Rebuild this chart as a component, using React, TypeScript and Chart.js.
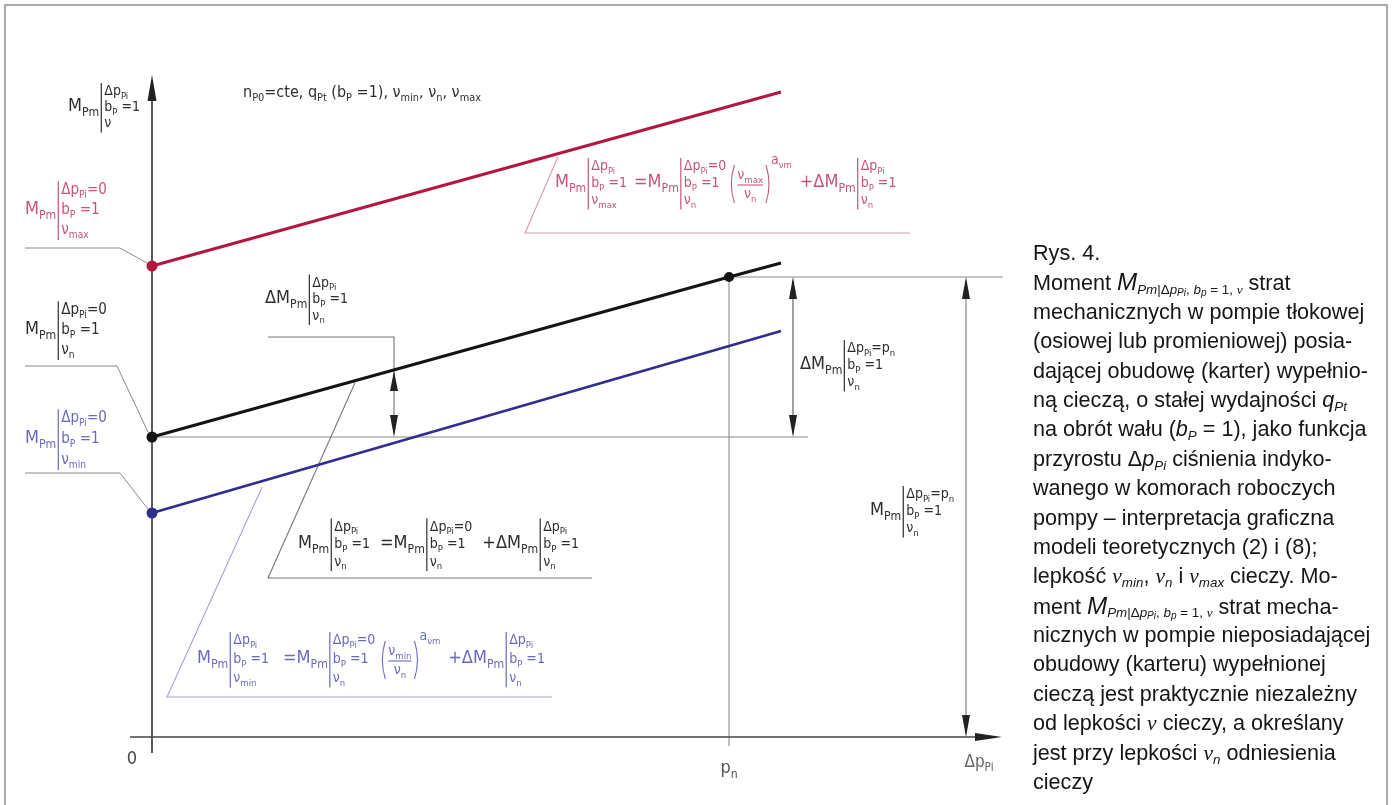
import React, { useEffect, useRef } from "react";
import { Chart, registerables } from "chart.js";

Chart.register(...registerables);

// ---- data (Δp_Pi on x, M_Pm on y; arbitrary units) ----
const pressureValues = [0, 10.9];
const nominalPressure = 10; // p_n
const momentMaxValues = [47.1, 64.5]; // viscosity ν_max
const momentNomValues = [30.0, 47.4]; // viscosity ν_n
const momentMinValues = [22.4, 40.6]; // viscosity ν_min
const momentNomAtPn = 46.0;
const xAxisMax = 14.73;
const yAxisMax = 66.2;
const tickLabels = ["0", "p_{n}", "Δp_{Pi}"];
const conditionsText = "n_{P0}=cte, q_{Pt} (b_{P} =1), ν_{min}, ν_{n}, ν_{max}";

const RED = "#b3173f";
const BLUE = "#2e2e8e";
const BLACK = "#141414";
const RED_TEXT = "#c45579";
const RED_THIN = "#d99aae";
const BLUE_TEXT = "#6a6abd";
const BLUE_THIN = "#a4a4d8";
const DARK_TEXT = "#2e2e2e";
const GUIDE = "#8a8a8a";

const DIAG_FONT = "'Liberation Sans Narrow', 'DejaVu Sans Condensed', 'Arial Narrow', 'Liberation Sans', sans-serif";
const font = (s: number) => `${s.toFixed(1)}px ${DIAG_FONT}`;

type Run = { text: string; scale: number; dy: number };
function parseRich(s: string): Run[] {
  const runs: Run[] = [];
  const st: { scale: number; dy: number }[] = [{ scale: 1, dy: 0 }];
  let buf = "";
  const flush = () => {
    if (buf) {
      const t = st[st.length - 1];
      runs.push({ text: buf, scale: t.scale, dy: t.dy });
      buf = "";
    }
  };
  for (let i = 0; i < s.length; i++) {
    const c = s[i];
    if ((c === "_" || c === "^") && s[i + 1] === "{") {
      flush();
      const t = st[st.length - 1];
      st.push(
        c === "_"
          ? { scale: t.scale * 0.68, dy: t.dy + 0.26 * t.scale }
          : { scale: t.scale * 0.68, dy: t.dy - 0.42 * t.scale }
      );
      i++;
    } else if (c === "}") {
      flush();
      if (st.length > 1) st.pop();
    } else buf += c;
  }
  flush();
  return runs;
}

function rich(ctx: CanvasRenderingContext2D, s: string, x: number, y: number, size: number, color: string, draw = true, align: "left" | "center" = "left") {
  const runs = parseRich(s);
  let w = 0;
  for (const r of runs) {
    ctx.font = font(size * r.scale);
    w += ctx.measureText(r.text).width;
  }
  if (draw) {
    let cx = align === "center" ? x - w / 2 : x;
    ctx.fillStyle = color;
    ctx.textAlign = "left";
    ctx.textBaseline = "alphabetic";
    for (const r of runs) {
      ctx.font = font(size * r.scale);
      ctx.fillText(r.text, cx, y + r.dy * size);
      cx += ctx.measureText(r.text).width;
    }
  }
  return w;
}

type LOpt = { size: number; sub: number; sp: number; color: string };
function evalLabel(ctx: CanvasRenderingContext2D, x: number, base: number, main: string, lines: string[], o: LOpt) {
  const w = rich(ctx, main, x, base, o.size, o.color);
  const bx = x + w + 2;
  ctx.strokeStyle = o.color;
  ctx.lineWidth = 1.2;
  ctx.beginPath();
  ctx.moveTo(bx, base - o.sp - o.sub * 0.85);
  ctx.lineTo(bx, base + o.sp + o.sub * 0.4);
  ctx.stroke();
  let mw = 0;
  lines.forEach((ln, i) => {
    const lw = rich(ctx, ln, bx + 3, base + (i - 1) * o.sp, o.sub, o.color);
    mw = Math.max(mw, lw);
  });
  return bx + 3 + mw;
}

function parenFrac(ctx: CanvasRenderingContext2D, x: number, base: number, num: string, den: string, exp: string, o: LOpt) {
  const fs = o.sub;
  const nw = rich(ctx, num, 0, 0, fs, o.color, false);
  const dw = rich(ctx, den, 0, 0, fs, o.color, false);
  const fw = Math.max(nw, dw);
  const top = base - 22;
  const bot = base + 16;
  ctx.strokeStyle = o.color;
  ctx.lineWidth = 1.1;
  ctx.beginPath();
  ctx.moveTo(x + 6, top);
  ctx.quadraticCurveTo(x, (top + bot) / 2, x + 6, bot);
  ctx.stroke();
  const fx = x + 9;
  rich(ctx, num, fx + (fw - nw) / 2, base - 8, fs, o.color);
  ctx.beginPath();
  ctx.moveTo(fx, base - 2);
  ctx.lineTo(fx + fw, base - 2);
  ctx.stroke();
  rich(ctx, den, fx + (fw - dw) / 2, base + 11, fs, o.color);
  const rx = fx + fw + 3;
  ctx.beginPath();
  ctx.moveTo(rx, top);
  ctx.quadraticCurveTo(rx + 6, (top + bot) / 2, rx, bot);
  ctx.stroke();
  const ew = rich(ctx, exp, rx + 5, top - 1, fs, o.color);
  return rx + 5 + ew;
}

function head(ctx: CanvasRenderingContext2D, tx: number, ty: number, dir: "up" | "down" | "right", len: number, hw: number, color: string) {
  ctx.fillStyle = color;
  ctx.beginPath();
  ctx.moveTo(tx, ty);
  if (dir === "up") {
    ctx.lineTo(tx - hw, ty + len);
    ctx.lineTo(tx + hw, ty + len);
  } else if (dir === "down") {
    ctx.lineTo(tx - hw, ty - len);
    ctx.lineTo(tx + hw, ty - len);
  } else {
    ctx.lineTo(tx - len, ty - hw);
    ctx.lineTo(tx - len, ty + hw);
  }
  ctx.closePath();
  ctx.fill();
}

function poly(ctx: CanvasRenderingContext2D, pts: number[][], color: string, lw: number) {
  ctx.strokeStyle = color;
  ctx.lineWidth = lw;
  ctx.beginPath();
  pts.forEach((p, i) => (i === 0 ? ctx.moveTo(p[0], p[1]) : ctx.lineTo(p[0], p[1])));
  ctx.stroke();
}

const diagramPlugin = {
  id: "diagram",
  beforeDatasetsDraw(chart: any) {
    const ctx: CanvasRenderingContext2D = chart.ctx;
    const xs = chart.scales.x;
    const ys = chart.scales.y;
    const X = (v: number) => xs.getPixelForValue(v);
    const Y = (v: number) => ys.getPixelForValue(v);
    const lineAt = (vals: number[], px: number) => {
      const v = xs.getValueForPixel(px);
      return Y(vals[0] + ((vals[1] - vals[0]) * (v - pressureValues[0])) / (pressureValues[1] - pressureValues[0]));
    };
    const ox = X(0);
    const oy = Y(0);
    const yN0 = Y(momentNomValues[0]);
    const pnX = X(nominalPressure);
    const pnY = Y(momentNomAtPn);
    ctx.save();
    // frame
    poly(ctx, [[5, 805], [5, 5], [1387, 5], [1387, 805]], "#8f8f8f", 1.5);
    // guides
    poly(ctx, [[ox, yN0], [808, yN0]], GUIDE, 1.1);
    poly(ctx, [[pnX, pnY], [pnX, oy + 9]], GUIDE, 1.1);
    poly(ctx, [[pnX, pnY], [1003, pnY]], GUIDE, 1.1);
    // axes
    const yTop = Y(yAxisMax);
    poly(ctx, [[ox, oy + 16], [ox, yTop + 10]], "#333", 1.6);
    head(ctx, ox, yTop, "up", 26, 4.5, "#222");
    const xEnd = X(xAxisMax);
    poly(ctx, [[130, oy], [xEnd - 10, oy]], "#444", 1.4);
    head(ctx, xEnd, oy, "right", 27, 4, "#222");
    // dimension arrows
    const dimX = 793;
    poly(ctx, [[dimX, pnY + 4], [dimX, yN0 - 4]], "#555", 1.1);
    head(ctx, dimX, pnY, "up", 22, 4, "#222");
    head(ctx, dimX, yN0, "down", 22, 4, "#222");
    const totX = 966;
    poly(ctx, [[totX, pnY + 4], [totX, oy - 4]], "#777", 1.1);
    head(ctx, totX, pnY, "up", 22, 4, "#222");
    head(ctx, totX, oy, "down", 22, 4, "#222");
    const smX = 394;
    const smTop = lineAt(momentNomValues, smX);
    poly(ctx, [[268, 337], [smX, 337], [smX, yN0 - 4]], "#777", 1.1);
    head(ctx, smX, smTop + 1, "up", 20, 4, "#222");
    head(ctx, smX, yN0, "down", 22, 4, "#222");
    // leaders
    poly(ctx, [[25, 248], [120, 248], [ox - 5, Y(momentMaxValues[0]) - 3]], "#8a8a8a", 1);
    poly(ctx, [[25, 366], [117, 366], [ox - 4, yN0 - 5]], "#8a8a8a", 1);
    poly(ctx, [[25, 473], [120, 473], [ox - 4, Y(momentMinValues[0]) - 4]], "#8a8a8a", 1);
    poly(ctx, [[558, lineAt(momentMaxValues, 558) + 3], [525, 233], [910, 233]], RED_THIN, 1.1);
    poly(ctx, [[355, lineAt(momentNomValues, 355) + 2], [268, 578], [592, 578]], "#777", 1.1);
    poly(ctx, [[262, lineAt(momentMinValues, 262) + 6], [167, 697], [552, 697]], BLUE_THIN, 1.1);
    ctx.restore();
  },
  afterDatasetsDraw(chart: any) {
    const ctx: CanvasRenderingContext2D = chart.ctx;
    const xs = chart.scales.x;
    const pnX = xs.getPixelForValue(nominalPressure);
    ctx.save();
    const dark: LOpt = { size: 18, sub: 14, sp: 16, color: DARK_TEXT };
    // axis label
    evalLabel(ctx, 68, 111, "M_{Pm}", ["Δp_{Pi}", "b_{P} =1", "ν"], dark);
    rich(ctx, conditionsText, 243, 97, 16, DARK_TEXT);
    // left labels
    evalLabel(ctx, 25, 214, "M_{Pm}", ["Δp_{Pi}=0", "b_{P} =1", "ν_{max}"], { size: 18, sub: 15, sp: 20, color: RED_TEXT });
    evalLabel(ctx, 25, 334, "M_{Pm}", ["Δp_{Pi}=0", "b_{P} =1", "ν_{n}"], { size: 18, sub: 15, sp: 20, color: DARK_TEXT });
    evalLabel(ctx, 25, 443, "M_{Pm}", ["Δp_{Pi}=0", "b_{P} =1", "ν_{min}"], { size: 18, sub: 15, sp: 21, color: BLUE_TEXT });
    // ΔM labels
    evalLabel(ctx, 265, 303, "ΔM_{Pm}", ["Δp_{Pi}", "b_{P} =1", "ν_{n}"], { ...dark, sp: 16.5 });
    evalLabel(ctx, 800, 369, "ΔM_{Pm}", ["Δp_{Pi}=p_{n}", "b_{P} =1", "ν_{n}"], { ...dark, sp: 17 });
    evalLabel(ctx, 870, 515, "M_{Pm}", ["Δp_{Pi}=p_{n}", "b_{P} =1", "ν_{n}"], { ...dark, sp: 17 });
    // red formula
    const ro: LOpt = { size: 18, sub: 14, sp: 17, color: RED_TEXT };
    let cx = 555;
    cx = evalLabel(ctx, cx, 187, "M_{Pm}", ["Δp_{Pi}", "b_{P} =1", "ν_{max}"], ro);
    cx = evalLabel(ctx, cx + 7, 187, "=M_{Pm}", ["Δp_{Pi}=0", "b_{P} =1", "ν_{n}"], ro);
    cx = parenFrac(ctx, cx + 2, 187, "ν_{max}", "ν_{n}", "a_{νm}", ro);
    evalLabel(ctx, cx + 8, 187, "+ΔM_{Pm}", ["Δp_{Pi}", "b_{P} =1", "ν_{n}"], ro);
    // black formula
    const bo: LOpt = { size: 18, sub: 14, sp: 17.5, color: DARK_TEXT };
    cx = 298;
    cx = evalLabel(ctx, cx, 548, "M_{Pm}", ["Δp_{Pi}", "b_{P} =1", "ν_{n}"], bo);
    cx = evalLabel(ctx, cx + 10, 548, "=M_{Pm}", ["Δp_{Pi}=0", "b_{P} =1", "ν_{n}"], bo);
    evalLabel(ctx, cx + 10, 548, "+ΔM_{Pm}", ["Δp_{Pi}", "b_{P} =1", "ν_{n}"], bo);
    // blue formula
    const uo: LOpt = { size: 18, sub: 14, sp: 19, color: BLUE_TEXT };
    cx = 197;
    cx = evalLabel(ctx, cx, 663, "M_{Pm}", ["Δp_{Pi}", "b_{P} =1", "ν_{min}"], uo);
    cx = evalLabel(ctx, cx + 14, 663, "=M_{Pm}", ["Δp_{Pi}=0", "b_{P} =1", "ν_{n}"], uo);
    cx = parenFrac(ctx, cx + 4, 663, "ν_{min}", "ν_{n}", "a_{νm}", uo);
    evalLabel(ctx, cx + 8, 663, "+ΔM_{Pm}", ["Δp_{Pi}", "b_{P} =1", "ν_{n}"], uo);
    // tick labels
    rich(ctx, tickLabels[0], 132, 764, 18, "#444", true, "center");
    rich(ctx, tickLabels[1], pnX, 773, 18, "#555", true, "center");
    rich(ctx, tickLabels[2], 979, 767, 17, "#666", true, "center");
    ctx.restore();
  },
};

const S: React.CSSProperties = { fontSize: "0.62em", verticalAlign: "-0.28em", lineHeight: 0 };
const S2: React.CSSProperties = { fontSize: "0.75em", verticalAlign: "-0.2em", lineHeight: 0 };
const NU: React.CSSProperties = { fontFamily: "'Liberation Serif', 'DejaVu Serif', serif", fontStyle: "italic" };

function Sub({ children }: { children: React.ReactNode }) {
  return <span style={S}>{children}</span>;
}
function Sub2({ children }: { children: React.ReactNode }) {
  return <span style={S2}>{children}</span>;
}
function Nu() {
  return <span style={NU}>ν</span>;
}
function MomentSymbol() {
  return (
    <>
      <i style={{ fontSize: "1.12em" }}>M</i>
      <Sub>
        <i>Pm</i>|Δ<i>p</i>
        <Sub2>
          <i>Pi</i>
        </Sub2>
        , <i>b</i>
        <Sub2>
          <i>p</i>
        </Sub2>{" "}
        = 1, <Nu />
      </Sub>
    </>
  );
}

export default function App() {
  const ref = useRef<HTMLCanvasElement>(null);
  useEffect(() => {
    const canvas = ref.current!;
    const pt = (xv: number[], yv: number[]) => xv.map((x, i) => ({ x, y: yv[i] }));
    const chart = new Chart(canvas, {
      type: "line",
      data: {
        datasets: [
          {
            label: "ν_max",
            data: pt(pressureValues, momentMaxValues),
            borderColor: RED,
            backgroundColor: RED,
            borderWidth: 3,
            pointRadius: [5.5, 0],
            pointBorderWidth: 0,
            clip: false,
          } as any,
          {
            label: "ν_n",
            data: pt([pressureValues[0], nominalPressure, pressureValues[1]], [momentNomValues[0], momentNomAtPn, momentNomValues[1]]),
            borderColor: BLACK,
            backgroundColor: BLACK,
            borderWidth: 3,
            pointRadius: [5.5, 5, 0],
            pointBorderWidth: 0,
            clip: false,
          } as any,
          {
            label: "ν_min",
            data: pt(pressureValues, momentMinValues),
            borderColor: BLUE,
            backgroundColor: BLUE,
            borderWidth: 2.6,
            pointRadius: [5.5, 0],
            pointBorderWidth: 0,
            clip: false,
          } as any,
        ],
      },
      options: {
        responsive: false,
        animation: false,
        devicePixelRatio: 1,
        events: [],
        layout: { padding: { left: 152, right: 390, top: 75, bottom: 68 } },
        scales: {
          x: { type: "linear", min: 0, max: xAxisMax, display: false },
          y: { type: "linear", min: 0, max: yAxisMax, display: false },
        },
        elements: { line: { tension: 0 } },
        plugins: { legend: { display: false }, tooltip: { enabled: false }, title: { display: false } },
      },
      plugins: [diagramPlugin],
    });
    return () => chart.destroy();
  }, []);

  const lines: React.ReactNode[] = [
    "Rys. 4.",
    <>
      Moment <MomentSymbol /> strat
    </>,
    "mechanicznych w pompie tłokowej",
    "(osiowej lub promieniowej) posia-",
    "dającej obudowę (karter) wypełnio-",
    <>
      ną cieczą, o stałej wydajności <i>q</i>
      <Sub>
        <i>Pt</i>
      </Sub>
    </>,
    <>
      na obrót wału (<i>b</i>
      <Sub>
        <i>P</i>
      </Sub>{" "}
      = 1), jako funkcja
    </>,
    <>
      przyrostu Δ<i>p</i>
      <Sub>
        <i>Pi</i>
      </Sub>{" "}
      ciśnienia indyko-
    </>,
    "wanego w komorach roboczych",
    "pompy – interpretacja graficzna",
    "modeli teoretycznych (2) i (8);",
    <>
      lepkość <Nu />
      <Sub>
        <i>min</i>
      </Sub>
      , <Nu />
      <Sub>
        <i>n</i>
      </Sub>{" "}
      i <Nu />
      <Sub>
        <i>max</i>
      </Sub>{" "}
      cieczy. Mo-
    </>,
    <>
      ment <MomentSymbol /> strat mecha-
    </>,
    "nicznych w pompie nieposiadającej",
    "obudowy (karteru) wypełnionej",
    "cieczą jest praktycznie niezależny",
    <>
      od lepkości <Nu /> cieczy, a określany
    </>,
    <>
      jest przy lepkości <Nu />
      <Sub>
        <i>n</i>
      </Sub>{" "}
      odniesienia
    </>,
    "cieczy",
  ];

  return (
    <div style={{ position: "absolute", left: 0, top: 0, width: 1392, height: 805, background: "#fff", overflow: "hidden" }}>
      <canvas ref={ref} width={1392} height={805} style={{ position: "absolute", left: 0, top: 0, width: 1392, height: 805 }} />
      <div
        style={{
          position: "absolute",
          left: 1033,
          top: 238,
          font: "21.6px 'Liberation Sans', Arial, sans-serif",
          lineHeight: "29.4px",
          color: "#161616",
          whiteSpace: "nowrap",
        }}
      >
        {lines.map((l, i) => (
          <div key={i} style={{ height: "29.4px" }}>
            {l}
          </div>
        ))}
      </div>
    </div>
  );
}
